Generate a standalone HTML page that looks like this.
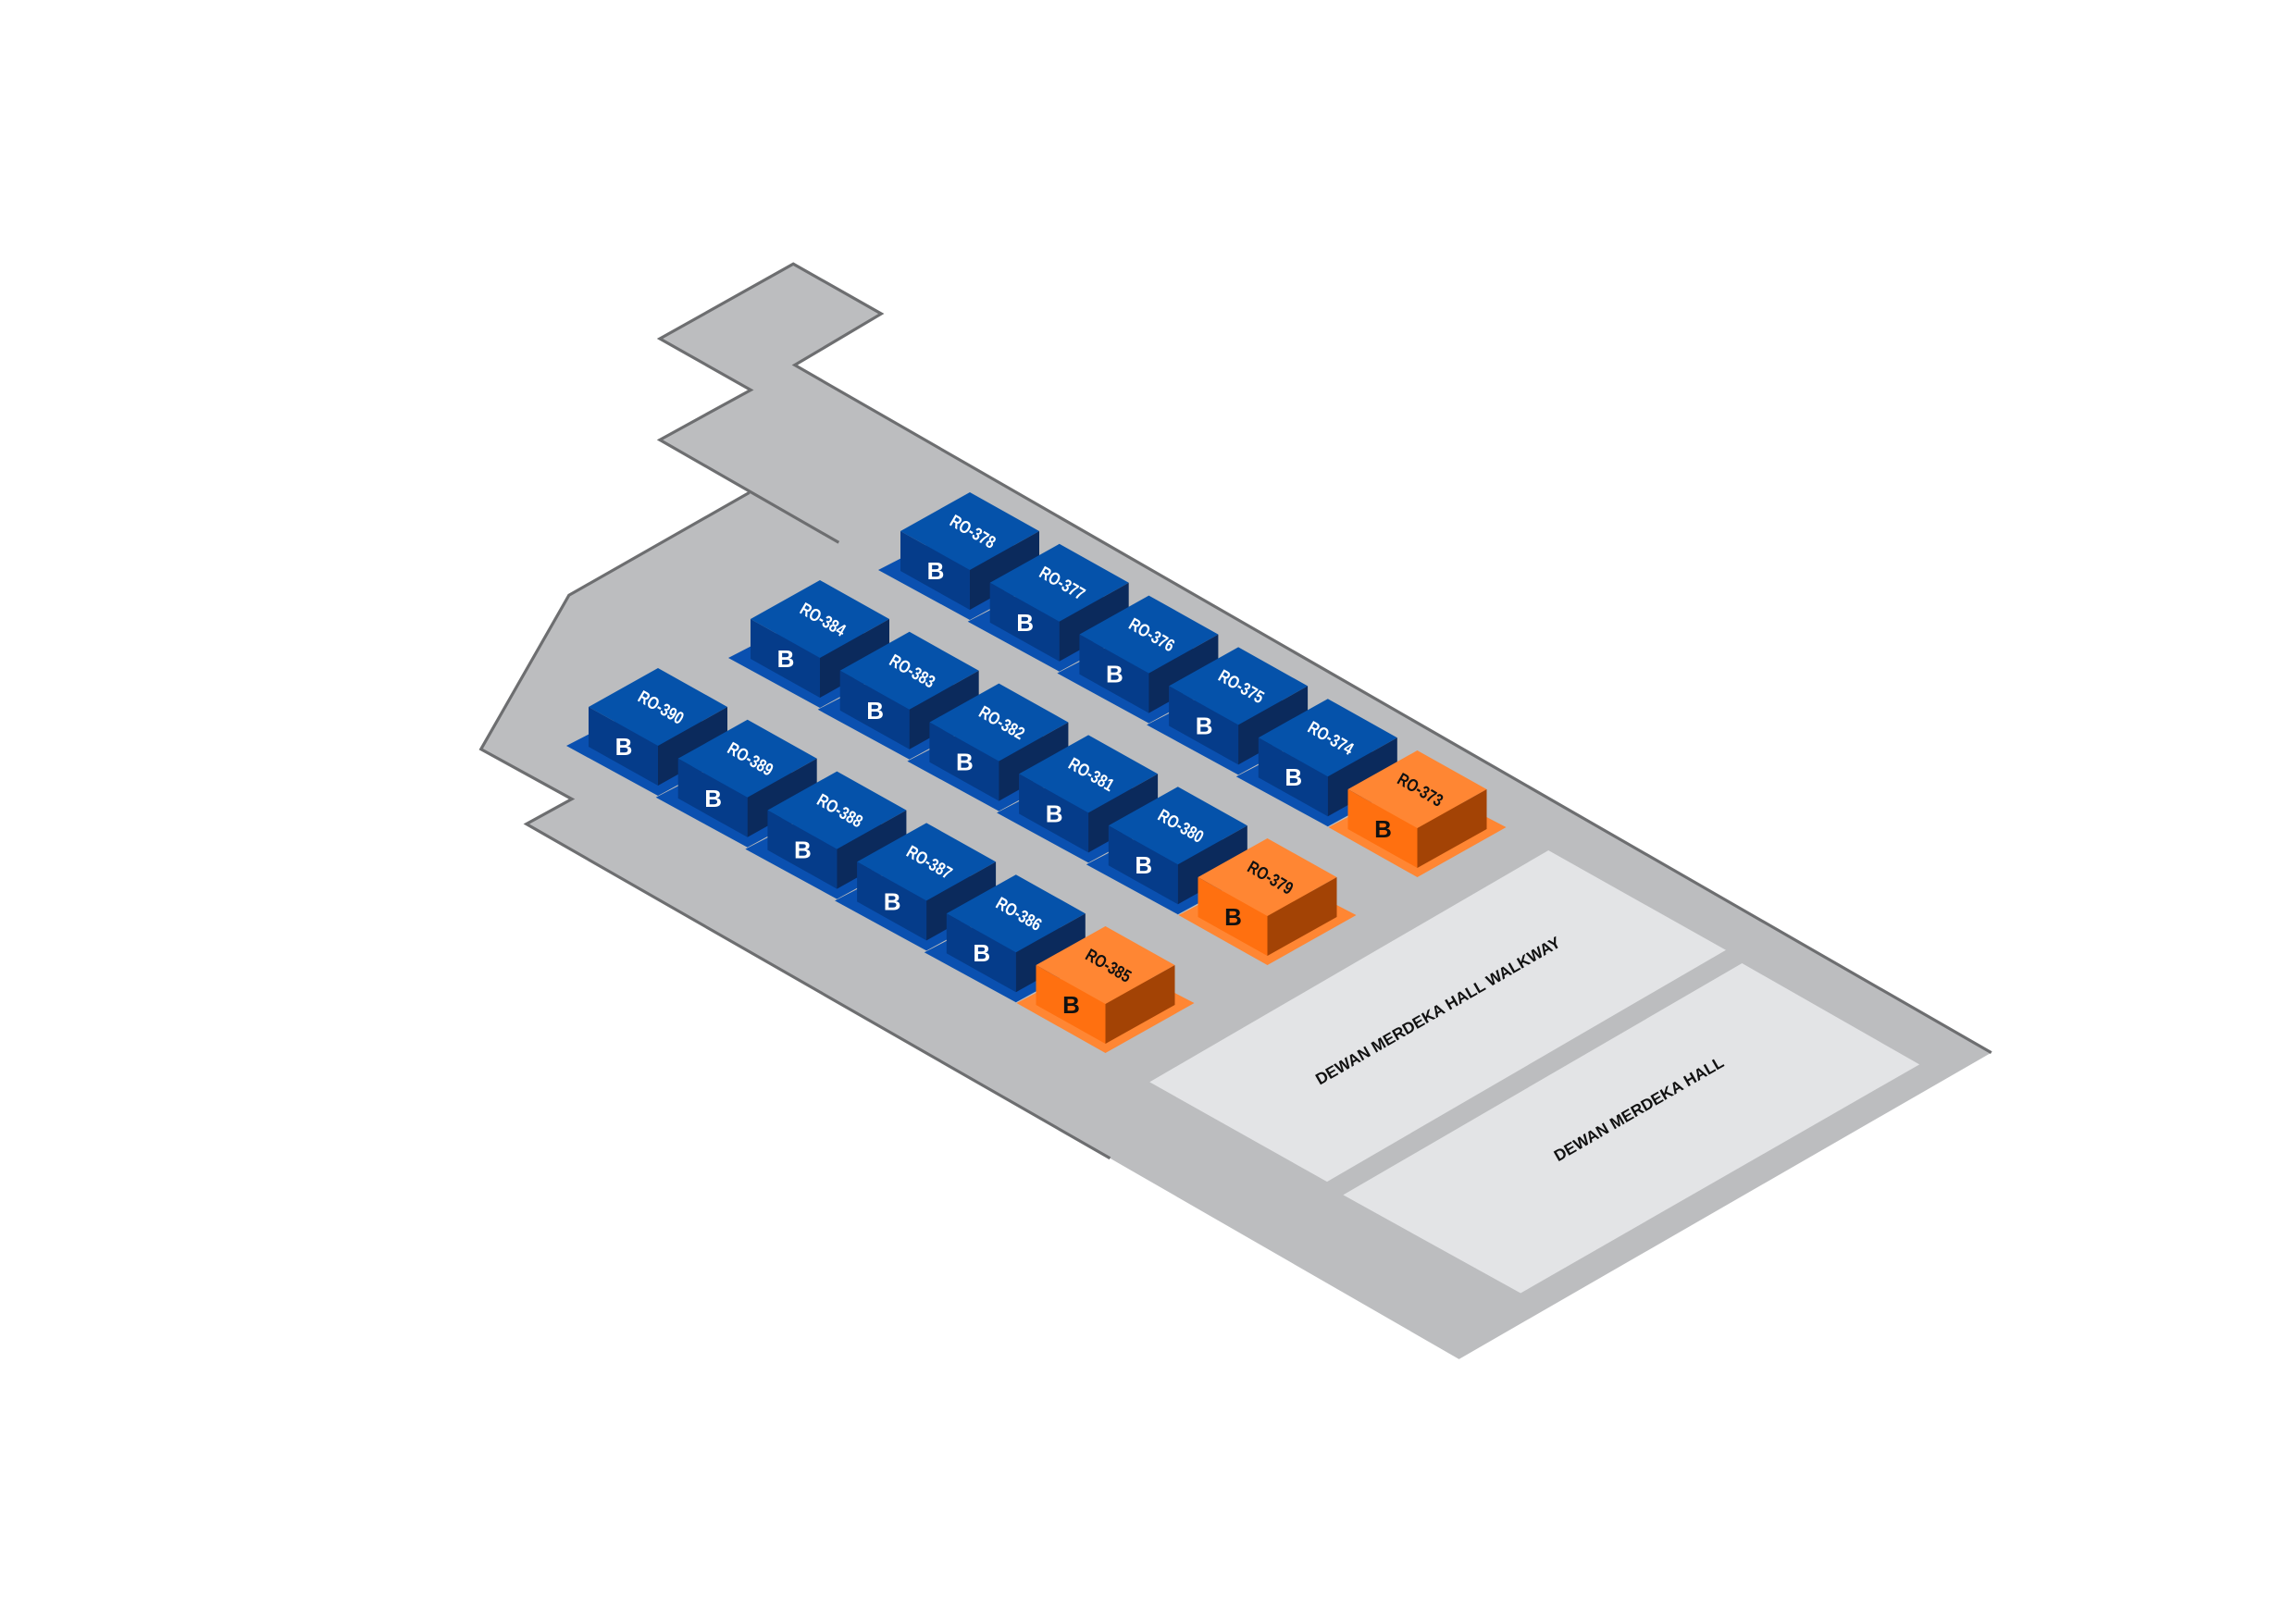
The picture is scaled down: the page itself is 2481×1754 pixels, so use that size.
<!DOCTYPE html>
<html><head><meta charset="utf-8">
<style>
html,body{margin:0;padding:0;background:#fff;}
svg{display:block;}
.lbl{font-family:"Liberation Sans",sans-serif;font-weight:bold;font-size:19px;}
.b{font-family:"Liberation Sans",sans-serif;font-weight:bold;font-size:26px;}
.hall{font-family:"Liberation Sans",sans-serif;font-weight:bold;font-size:11px;fill:#111;}
</style></head>
<body>
<svg width="2481" height="1754" viewBox="0 0 2481 1754" xmlns="http://www.w3.org/2000/svg">
<defs>
  <g id="bbox">
    <polygon points="0,0 -75,42 0,84 75,42" fill="#0552aa"/>
    <polygon points="-75,42 0,84 0,127 -75,85" fill="#053c8a"/>
    <polygon points="0,84 75,42 75,85 0,127" fill="#0b2a5c"/>
  </g>
  <g id="obox">
    <polygon points="0,0 -75,42 0,84 75,42" fill="#ff8633"/>
    <polygon points="-75,42 0,84 0,127 -75,85" fill="#ff7010"/>
    <polygon points="0,84 75,42 75,85 0,127" fill="#a34305"/>
  </g>
  <polygon id="bplate" points="0,33 -99,84 0,138 99,84" fill="#0a50b0"/>
  <polygon id="oplate" points="0,33 -96,83 0,137 96,83" fill="#ff8633"/>
</defs>

<g transform="scale(1.5845)">
  <polygon points="541,180 601,214 542,249 1358,718 995,927 757,790 359,562 390,545 328,511 388,406 511,336 450,300 512,266 450,231" fill="#bcbdbf"/>
  <polyline points="1358,718 542,249 601,214 541,180 450,231 512,266 450,300 572,370" fill="none" stroke="#6d6e70" stroke-width="2"/>
  <polyline points="511,336 388,406 328,511 390,545 359,562 757,790" fill="none" stroke="#6d6e70" stroke-width="2"/>
  <polygon points="784,738 1056,580 1177,648 905,806" fill="#e3e4e6"/>
  <polygon points="916,815 1188,657 1309,726 1037,882" fill="#e3e4e6"/>
  <text class="hall" x="981" y="693" text-anchor="middle" transform="rotate(-30 981 690)">DEWAN MERDEKA HALL WALKWAY</text>
  <text class="hall" x="1118" y="760" text-anchor="middle" transform="rotate(-30 1118 757)">DEWAN MERDEKA HALL</text>
</g>

<use href="#bplate" x="1048" y="532"/><use href="#bplate" x="1144.7" y="587.8"/><use href="#bplate" x="1241.4" y="643.6"/><use href="#bplate" x="1338.1" y="699.4"/><use href="#bplate" x="1434.8" y="755.2"/><use href="#oplate" x="1531.5" y="811"/>
<use href="#bplate" x="886" y="627"/><use href="#bplate" x="982.7" y="682.8"/><use href="#bplate" x="1079.4" y="738.6"/><use href="#bplate" x="1176.1" y="794.4"/><use href="#bplate" x="1272.8" y="850.2"/><use href="#oplate" x="1369.5" y="906"/>
<use href="#bplate" x="711" y="722"/><use href="#bplate" x="807.7" y="777.8"/><use href="#bplate" x="904.4" y="833.6"/><use href="#bplate" x="1001.1" y="889.4"/><use href="#bplate" x="1097.8" y="945.2"/><use href="#oplate" x="1194.5" y="1001"/>

<g transform="translate(1048,532)"><use href="#bbox"/><text class="lbl" fill="#fff" text-anchor="middle" transform="translate(0,48) rotate(30) scale(0.8,1)">RO-378</text><text class="b" fill="#fff" x="-37" y="94" text-anchor="middle">B</text></g>
<g transform="translate(1144.7,587.8)"><use href="#bbox"/><text class="lbl" fill="#fff" text-anchor="middle" transform="translate(0,48) rotate(30) scale(0.8,1)">RO-377</text><text class="b" fill="#fff" x="-37" y="94" text-anchor="middle">B</text></g>
<g transform="translate(1241.4,643.6)"><use href="#bbox"/><text class="lbl" fill="#fff" text-anchor="middle" transform="translate(0,48) rotate(30) scale(0.8,1)">RO-376</text><text class="b" fill="#fff" x="-37" y="94" text-anchor="middle">B</text></g>
<g transform="translate(1338.1,699.4)"><use href="#bbox"/><text class="lbl" fill="#fff" text-anchor="middle" transform="translate(0,48) rotate(30) scale(0.8,1)">RO-375</text><text class="b" fill="#fff" x="-37" y="94" text-anchor="middle">B</text></g>
<g transform="translate(1434.8,755.2)"><use href="#bbox"/><text class="lbl" fill="#fff" text-anchor="middle" transform="translate(0,48) rotate(30) scale(0.8,1)">RO-374</text><text class="b" fill="#fff" x="-37" y="94" text-anchor="middle">B</text></g>
<g transform="translate(1531.5,811)"><use href="#obox"/><text class="lbl" fill="#111" text-anchor="middle" transform="translate(0,48) rotate(30) scale(0.8,1)">RO-373</text><text class="b" fill="#111" x="-37" y="94" text-anchor="middle">B</text></g>

<g transform="translate(886,627)"><use href="#bbox"/><text class="lbl" fill="#fff" text-anchor="middle" transform="translate(0,48) rotate(30) scale(0.8,1)">RO-384</text><text class="b" fill="#fff" x="-37" y="94" text-anchor="middle">B</text></g>
<g transform="translate(982.7,682.8)"><use href="#bbox"/><text class="lbl" fill="#fff" text-anchor="middle" transform="translate(0,48) rotate(30) scale(0.8,1)">RO-383</text><text class="b" fill="#fff" x="-37" y="94" text-anchor="middle">B</text></g>
<g transform="translate(1079.4,738.6)"><use href="#bbox"/><text class="lbl" fill="#fff" text-anchor="middle" transform="translate(0,48) rotate(30) scale(0.8,1)">RO-382</text><text class="b" fill="#fff" x="-37" y="94" text-anchor="middle">B</text></g>
<g transform="translate(1176.1,794.4)"><use href="#bbox"/><text class="lbl" fill="#fff" text-anchor="middle" transform="translate(0,48) rotate(30) scale(0.8,1)">RO-381</text><text class="b" fill="#fff" x="-37" y="94" text-anchor="middle">B</text></g>
<g transform="translate(1272.8,850.2)"><use href="#bbox"/><text class="lbl" fill="#fff" text-anchor="middle" transform="translate(0,48) rotate(30) scale(0.8,1)">RO-380</text><text class="b" fill="#fff" x="-37" y="94" text-anchor="middle">B</text></g>
<g transform="translate(1369.5,906)"><use href="#obox"/><text class="lbl" fill="#111" text-anchor="middle" transform="translate(0,48) rotate(30) scale(0.8,1)">RO-379</text><text class="b" fill="#111" x="-37" y="94" text-anchor="middle">B</text></g>

<g transform="translate(711,722)"><use href="#bbox"/><text class="lbl" fill="#fff" text-anchor="middle" transform="translate(0,48) rotate(30) scale(0.8,1)">RO-390</text><text class="b" fill="#fff" x="-37" y="94" text-anchor="middle">B</text></g>
<g transform="translate(807.7,777.8)"><use href="#bbox"/><text class="lbl" fill="#fff" text-anchor="middle" transform="translate(0,48) rotate(30) scale(0.8,1)">RO-389</text><text class="b" fill="#fff" x="-37" y="94" text-anchor="middle">B</text></g>
<g transform="translate(904.4,833.6)"><use href="#bbox"/><text class="lbl" fill="#fff" text-anchor="middle" transform="translate(0,48) rotate(30) scale(0.8,1)">RO-388</text><text class="b" fill="#fff" x="-37" y="94" text-anchor="middle">B</text></g>
<g transform="translate(1001.1,889.4)"><use href="#bbox"/><text class="lbl" fill="#fff" text-anchor="middle" transform="translate(0,48) rotate(30) scale(0.8,1)">RO-387</text><text class="b" fill="#fff" x="-37" y="94" text-anchor="middle">B</text></g>
<g transform="translate(1097.8,945.2)"><use href="#bbox"/><text class="lbl" fill="#fff" text-anchor="middle" transform="translate(0,48) rotate(30) scale(0.8,1)">RO-386</text><text class="b" fill="#fff" x="-37" y="94" text-anchor="middle">B</text></g>
<g transform="translate(1194.5,1001)"><use href="#obox"/><text class="lbl" fill="#111" text-anchor="middle" transform="translate(0,48) rotate(30) scale(0.8,1)">RO-385</text><text class="b" fill="#111" x="-37" y="94" text-anchor="middle">B</text></g>
</svg>
</body></html>
